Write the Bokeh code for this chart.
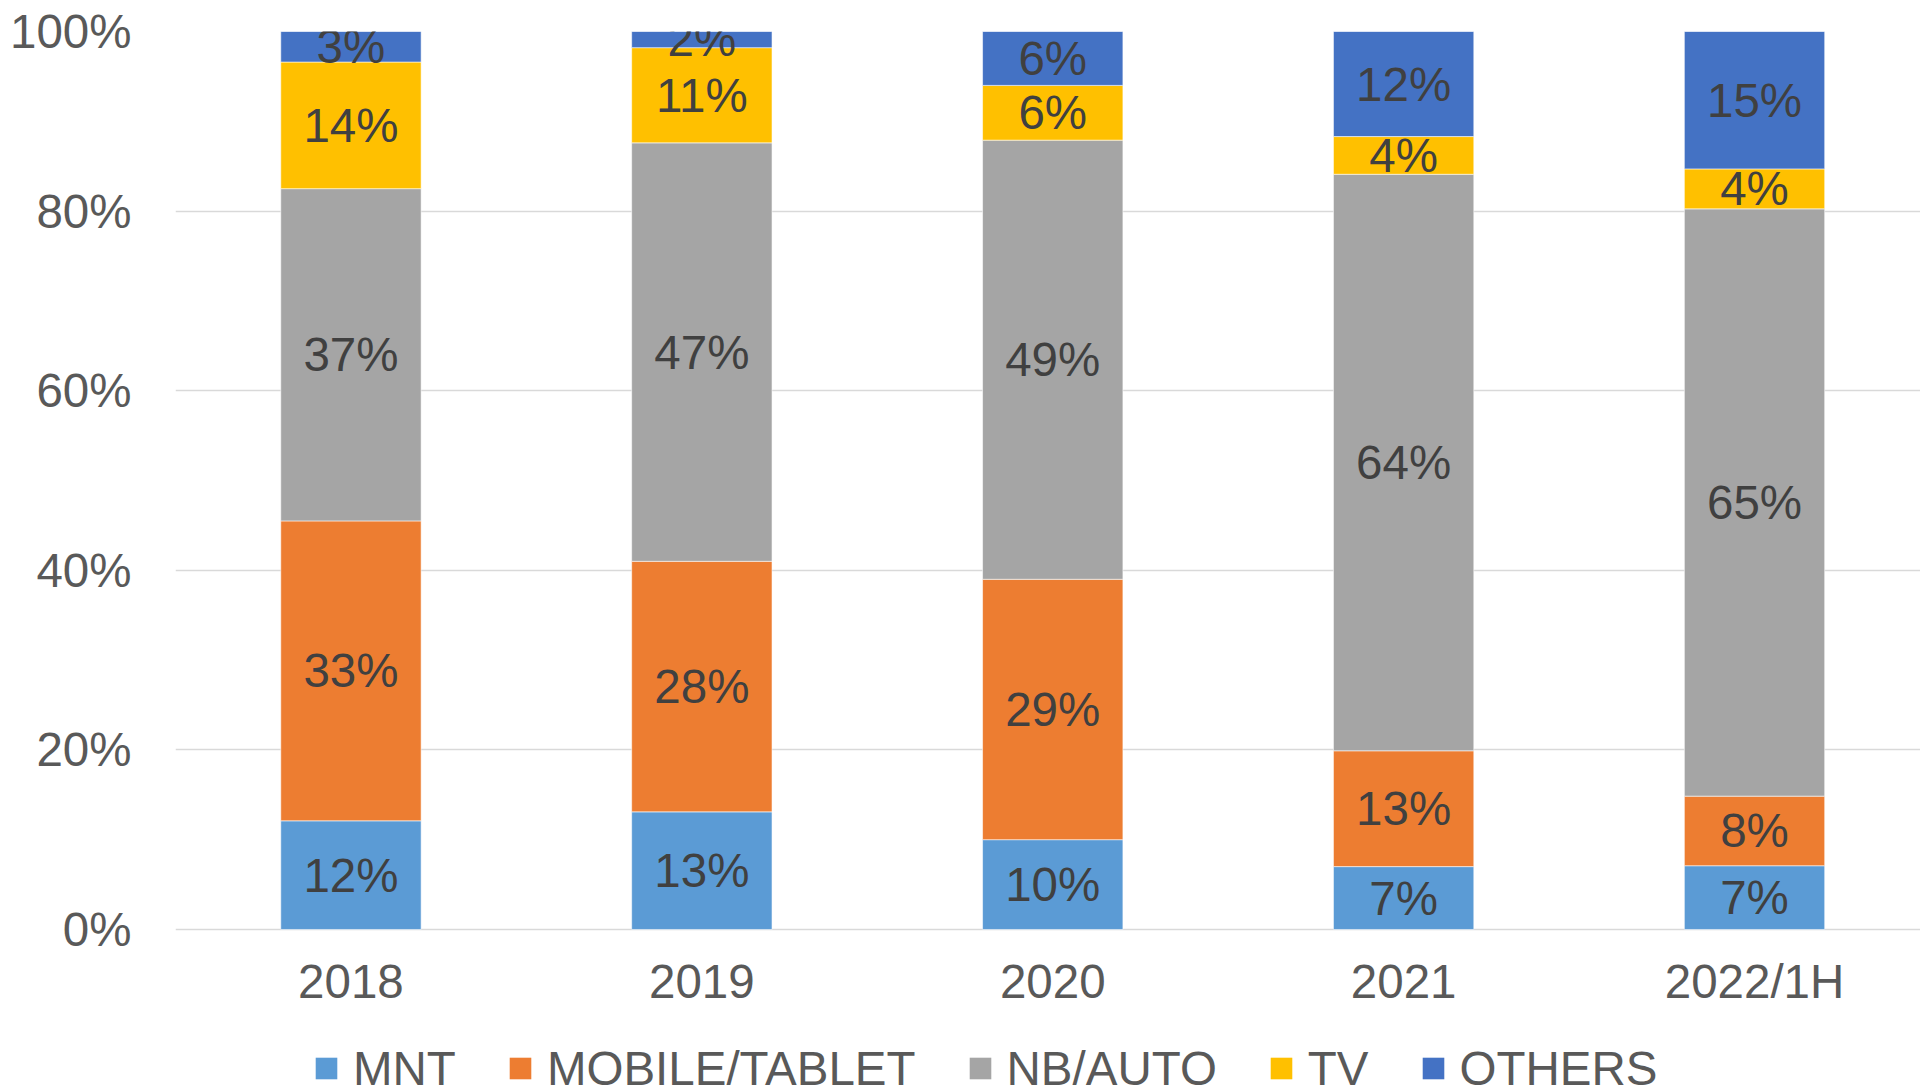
from bokeh.plotting import figure
from bokeh.models import (Range1d, ColumnDataSource, Legend, LegendItem,
                          FixedTicker, PrintfTickFormatter)
from bokeh.embed import file_html
from bokeh.resources import INLINE
from bokeh.core.properties import value

# ---- data (percent of total) ----
categories = ["2018", "2019", "2020", "2021", "2022/1H"]
series = ["MNT", "MOBILE/TABLET", "NB/AUTO", "TV", "OTHERS"]
mnt = [12.1, 13.1, 10.0, 7.0, 7.1]
mobile_tablet = [33.4, 27.9, 29.0, 12.9, 7.75]
nb_auto = [37.0, 46.6, 48.9, 64.2, 65.4]
tv = [14.1, 10.6, 6.1, 4.2, 4.45]
others = [3.4, 1.8, 6.0, 11.7, 15.3]
y_ticks = [0, 20, 40, 60, 80, 100]

colors = ["#5B9BD5", "#ED7D31", "#A5A5A5", "#FFC000", "#4472C4"]
FONT = "Liberation Sans"
FS = "47.5px"

values = [mnt, mobile_tablet, nb_auto, tv, others]
xs = [i + 0.5 for i in range(len(categories))]

data = {"x": xs}
for name, vals in zip(series, values):
    data[name] = vals
source = ColumnDataSource(data)

# frame spans from the 100% line down to the bottom of the page;
# the region below 0% holds the category labels and the legend
p = figure(width=1920, height=1089, output_backend="svg", toolbar_location=None,
           x_range=Range1d(0, 4.973), y_range=Range1d(-17.82, 100),
           min_border_left=175, min_border_top=31, min_border_bottom=0,
           min_border_right=0)
p.outline_line_color = None
p.background_fill_color = "white"
p.border_fill_color = "white"

p.vbar_stack(series, x="x", width=0.4, color=colors, source=source,
             line_color="white", line_width=0.8, line_alpha=0.7)

# data labels at segment centres
lx, ly, lt = [], [], []
for i, x in enumerate(xs):
    base = 0.0
    for vals in values:
        v = vals[i]
        lx.append(x)
        ly.append(base + v / 2.0)
        lt.append(f"{int(v + 0.5)}%")
        base += v
p.text(x=lx, y=ly, text=lt, text_align="center", text_baseline="middle",
       text_font=value(FONT), text_font_size=FS, text_color="#404040")

# axes
p.xaxis.fixed_location = 0
p.xaxis.ticker = FixedTicker(ticks=xs)
p.xaxis.major_label_overrides = {x: c for x, c in zip(xs, categories)}
p.yaxis.ticker = FixedTicker(ticks=y_ticks)
p.yaxis.formatter = PrintfTickFormatter(format="%d%%")
for ax in (p.xaxis, p.yaxis):
    ax.axis_line_color = None
    ax.major_tick_line_color = None
    ax.minor_tick_line_color = None
    ax.major_tick_in = 0
    ax.major_tick_out = 0
    ax.major_label_text_font = FONT
    ax.major_label_text_color = "#595959"
    ax.major_label_text_font_size = FS
p.xaxis.major_label_standoff = 26
p.yaxis.major_label_standoff = 44

p.xgrid.grid_line_color = None
p.ygrid.ticker = FixedTicker(ticks=y_ticks)
p.ygrid.grid_line_color = "#D9D9D9"
p.ygrid.grid_line_width = 1.5

# legend with square markers
items = []
for name, col in zip(series, colors):
    r = p.scatter(x=[float("nan")], y=[float("nan")], marker="square",
                  fill_color=col, line_color=None)
    items.append(LegendItem(label=name, renderers=[r]))
legend = Legend(items=items, orientation="horizontal", location=(124, -9),
                glyph_width=54, glyph_height=60, label_standoff=0, spacing=37,
                padding=0, margin=0, border_line_color=None,
                background_fill_alpha=0,
                label_text_font=FONT, label_text_font_size=FS,
                label_text_color="#595959")
p.add_layout(legend, "center")

open("out.html", "w").write(file_html(p, INLINE))
